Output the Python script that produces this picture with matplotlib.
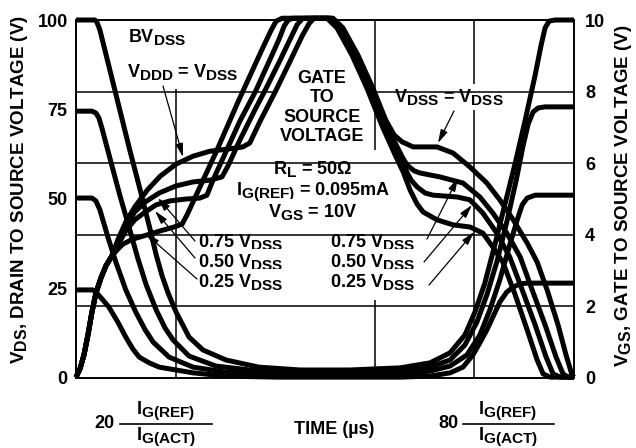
import matplotlib
matplotlib.use('Agg')
import matplotlib.pyplot as plt
from matplotlib.transforms import Affine2D
from matplotlib.patches import Rectangle
try:
    import matplotlib._mathtext as _mt
    _mt.SHRINK_FACTOR = 0.85
except Exception:
    pass

plt.rcParams['font.family'] = ['Liberation Sans', 'DejaVu Sans']
plt.rcParams['font.weight'] = 'bold'
plt.rcParams['font.size'] = 13
plt.rcParams['mathtext.fontset'] = 'custom'
plt.rcParams['mathtext.rm'] = 'Liberation Sans:bold'
plt.rcParams['mathtext.it'] = 'Liberation Sans:bold'
plt.rcParams['mathtext.bf'] = 'Liberation Sans:bold'
plt.rcParams['mathtext.sf'] = 'Liberation Sans:bold'
plt.rcParams['mathtext.default'] = 'rm'

# ---------------- data (time in % of span, voltage in V) ----------------
left_ticks = [0, 25, 50, 75, 100]
right_ticks = [0, 2, 4, 6, 8, 10]

# Drain-source voltage curves (V)
vds100_t = [0, 3.8, 4.2, 4.8, 6.8, 8.8, 10.8, 12.9, 14.9, 16.1, 17.3, 18.5, 20.1, 22.7, 25.5, 30.1, 36.7, 45.0,
            55.0, 65.1, 71.1, 75.1, 78.1, 80.1, 82.1, 84.1, 86.1, 88.2, 90.2, 92.2, 93.4, 94.2, 95.0, 96.2, 100]
vds100_v = [100, 100, 99.4, 97.2, 86.0, 74.8, 63.6, 52.4, 41.3, 34.3, 28.4, 23.6, 18.3, 11.3, 7.7, 4.9, 2.9, 2.1,
            2.1, 2.7, 4.1, 6.9, 11.9, 18.3, 26.4, 37.1, 48.3, 60.0, 72.0, 84.6, 93.0, 97.8, 99.7, 100, 100]

vds75_t = [0, 3.2, 4.0, 4.6, 5.2, 6.8, 8.8, 10.8, 12.4, 14.1, 16.1, 17.9, 19.5, 22.7, 28.1, 34.9, 45.0, 55.0,
           65.1, 71.1, 75.1, 78.1, 80.5, 82.5, 84.5, 86.5, 88.4, 89.8, 90.8, 91.8, 92.8, 94.2, 100]
vds75_v = [74.5, 74.5, 74.0, 72.6, 69.8, 61.4, 51.0, 41.3, 33.4, 25.9, 18.9, 13.8, 10.5, 6.0, 3.2, 2.1, 1.5, 1.5,
           1.8, 2.9, 4.9, 9.1, 15.5, 23.1, 32.3, 43.5, 55.2, 65.0, 70.9, 74.3, 75.4, 75.7, 75.7]

vds50_t = [0, 3.2, 4.0, 4.8, 6.4, 8.0, 10.0, 12.0, 13.9, 15.5, 18.7, 23.5, 30.1, 40.2, 55.0, 65.1, 71.1, 75.1,
           78.5, 81.1, 83.1, 85.1, 87.1, 88.6, 89.6, 90.6, 92.2, 100]
vds50_v = [50.2, 50.2, 49.4, 46.9, 39.3, 32.3, 24.5, 18.3, 13.3, 9.9, 5.7, 2.9, 1.5, 0.7, 0.7, 1.0, 1.8, 3.2,
           6.3, 11.9, 18.9, 27.3, 37.1, 44.1, 48.3, 50.2, 51.0, 51.0]

vds25_t = [0, 3.4, 4.2, 5.4, 6.6, 8.4, 10.0, 11.4, 12.7, 14.7, 16.7, 23.5, 30.1, 40.2, 55.0, 65.1, 71.1, 75.1,
           77.7, 79.7, 81.1, 82.5, 83.7, 85.1, 86.5, 87.8, 89.2, 90.6, 100]
vds25_v = [24.5, 24.5, 23.6, 21.7, 19.7, 15.5, 11.3, 8.0, 5.7, 4.1, 2.9, 1.3, 0.4, 0.1, 0.1, 0.1, 0.4, 1.3,
           2.9, 6.3, 9.7, 13.3, 16.9, 21.1, 23.9, 25.3, 26.2, 26.4, 26.4]

# Gate-source voltage curves (V, right axis 0-10)
vgs025_t = [0, 0.8, 1.6, 2.4, 3.2, 4.0, 5.0, 6.0, 7.2, 8.4, 9.4, 11.4, 14.3, 16.9, 19.7, 21.3, 22.3, 23.7, 28.3,
            32.7, 37.3, 39.2, 40.2, 41.4, 50.4, 52.4, 55.4, 58.4, 61.4, 64.1, 65.7, 67.1, 68.5, 69.7, 72.5, 75.7,
            79.1, 81.7, 83.7, 85.7, 88.2, 90.6, 92.6, 93.8, 95.2, 100]
vgs025_v = [0.01, 0.24, 0.63, 1.19, 1.83, 2.36, 2.78, 3.12, 3.40, 3.59, 3.73, 3.87, 3.99, 4.10, 4.21, 4.29, 4.55,
            4.97, 6.36, 7.76, 9.16, 9.72, 9.97, 10.05, 10.05, 9.78, 9.02, 8.10, 7.06, 6.22, 5.75, 5.24, 4.85, 4.63,
            4.41, 4.27, 4.21, 4.04, 3.65, 3.23, 2.31, 1.33, 0.49, 0.10, 0.01, 0.01]

vgs050_t = [0, 0.8, 1.6, 2.4, 3.2, 4.0, 5.0, 6.0, 7.2, 8.4, 10.0, 11.8, 13.9, 16.1, 18.9, 21.9, 24.9, 26.3, 27.5,
            29.9, 32.9, 36.0, 39.0, 40.8, 41.8, 42.6, 43.6, 50.8, 52.8, 55.8, 58.8, 61.8, 64.1, 65.7, 67.3, 68.5,
            70.1, 71.7, 76.5, 79.1, 81.7, 84.5, 87.1, 89.6, 92.2, 94.4, 95.8, 97.2, 100]
vgs050_v = [0.01, 0.24, 0.63, 1.19, 1.83, 2.36, 2.78, 3.12, 3.40, 3.71, 4.10, 4.41, 4.63, 4.83, 4.94, 4.99, 5.02,
            5.10, 5.52, 6.25, 7.17, 7.99, 8.91, 9.47, 9.83, 10.0, 10.05, 10.05, 9.78, 9.02, 8.10, 7.06, 6.41, 5.94,
            5.52, 5.33, 5.16, 5.10, 5.05, 4.97, 4.60, 4.04, 3.37, 2.45, 1.47, 0.57, 0.10, 0.01, 0.01]

vgs075_t = [0, 0.8, 1.6, 2.4, 3.2, 4.0, 5.0, 6.0, 7.2, 8.4, 10.0, 11.8, 13.9, 16.7, 20.1, 23.5, 26.9, 29.3, 30.5,
            32.9, 35.9, 38.0, 41.0, 43.2, 44.4, 45.4, 46.2, 51.2, 53.2, 56.2, 59.2, 62.2, 64.1, 65.5, 66.5, 67.9,
            69.1, 73.1, 77.7, 81.1, 83.7, 86.5, 89.2, 91.6, 94.2, 96.4, 97.8, 98.8, 100]
vgs075_v = [0.01, 0.24, 0.63, 1.19, 1.83, 2.36, 2.78, 3.12, 3.40, 3.76, 4.24, 4.63, 4.91, 5.16, 5.36, 5.47, 5.52,
            5.61, 5.91, 6.64, 7.48, 8.04, 8.88, 9.52, 9.87, 10.03, 10.05, 10.05, 9.78, 9.02, 8.10, 7.06, 6.56, 6.17,
            5.94, 5.78, 5.72, 5.61, 5.44, 5.05, 4.60, 4.04, 3.37, 2.45, 1.47, 0.57, 0.10, 0.01, 0.01]

vgs100_t = [0, 0.8, 1.6, 2.4, 3.2, 4.0, 5.0, 6.0, 7.2, 8.4, 10.0, 11.8, 14.3, 16.9, 20.1, 23.5, 26.9, 30.5, 33.5,
            34.9, 36.9, 40.0, 43.0, 45.4, 46.8, 47.8, 51.6, 53.6, 56.6, 59.6, 62.2, 63.9, 65.5, 67.7, 72.5, 75.7,
            79.1, 82.5, 85.1, 87.8, 90.6, 92.6, 94.6, 96.8, 98.4, 99.6, 100]
vgs100_v = [0.01, 0.24, 0.63, 1.19, 1.83, 2.36, 2.78, 3.12, 3.40, 3.85, 4.35, 4.77, 5.24, 5.63, 5.97, 6.19, 6.33,
            6.39, 6.45, 6.56, 7.15, 7.99, 8.85, 9.55, 9.90, 10.05, 10.05, 9.78, 9.02, 8.10, 7.20, 6.78, 6.59, 6.45,
            6.45, 6.28, 5.89, 5.44, 4.97, 4.41, 3.76, 3.23, 2.45, 1.47, 0.63, 0.07, 0.01]

vds_series = [(vds100_t, vds100_v), (vds75_t, vds75_v), (vds50_t, vds50_v), (vds25_t, vds25_v)]
vgs_series = [(vgs025_t, vgs025_v), (vgs050_t, vgs050_v), (vgs075_t, vgs075_v), (vgs100_t, vgs100_v)]

# ---------------- figure ----------------
W, H = 636, 448
fig = plt.figure(figsize=(W / 100, H / 100), dpi=100)
fig.patch.set_facecolor('white')
ax = fig.add_axes([76 / W, 1 - 377.5 / H, (574 - 76) / W, (377.5 - 20) / H])
ax.set_xlim(0, 100)
ax.set_ylim(0, 100)
ax2 = ax.twinx()
ax2.set_ylim(0, 10)

px = Affine2D().scale(1 / W, -1 / H).translate(0, 1) + fig.transFigure

for a in (ax, ax2):
    for s in a.spines.values():
        s.set_linewidth(1.2)
        s.set_color('black')
ax.set_xticks([])
ax.set_yticks(left_ticks)
ax.set_yticklabels([str(v) for v in left_ticks], fontsize=13, fontweight='bold')
ax.tick_params(axis='y', length=0, pad=6)
ax2.set_yticks(right_ticks)
ax2.set_yticklabels([str(v) for v in right_ticks], fontsize=13, fontweight='bold')
ax2.tick_params(axis='y', length=0, pad=8)

# grid lines (broken where the datasheet breaks them)
gkw = dict(color='black', lw=1.1, zorder=1, solid_capstyle='butt')
ax2.plot([0, 100], [2, 2], **gkw)
ax2.plot([0, 100], [4, 4], **gkw)
ax2.plot([0, 100], [6, 6], **gkw)
ax2.plot([0, 40], [8, 8], **gkw)
ax2.plot([60, 100], [8, 8], **gkw)
ax.plot([20, 20], [0, 80.7], **gkw)
ax.plot([60, 60], [63.5, 100], **gkw)
ax.plot([60, 60], [0, 21.8], **gkw)
ax.plot([80, 80], [0, 100], **gkw)

# white backing behind the central condition block
ax.add_patch(Rectangle((230, 153), 166, 71, transform=px, facecolor='white', edgecolor='none',
                       zorder=1.5, clip_on=False))

# curves
ckw = dict(color='black', lw=3.6, solid_joinstyle='round', solid_capstyle='butt', clip_on=False, zorder=3)
for t, v in vds_series:
    ax.plot(t, v, **ckw)
for t, v in vgs_series:
    ax2.plot(t, v, **ckw)

# texts
bb = dict(facecolor='white', edgecolor='none', pad=2.5)
def T(x, y, s, ha='left', va='baseline', box=True, **kw):
    ax.text(x, y, s, transform=px, ha=ha, va=va, fontsize=13, fontweight='bold', zorder=2,
            bbox=bb if box else None, **kw)

T(128, 42, 'BV$_{DSS}$')
T(127, 77, 'V$_{DDD}$ = V$_{DSS}$')
T(322, 83, 'GATE', ha='center')
T(322, 102, 'TO', ha='center')
T(322, 122, 'SOURCE', ha='center')
T(322, 141, 'VOLTAGE', ha='center')
T(313, 174, 'R$_{L}$ = 50Ω', ha='center')
T(313, 195, 'I$_{G(REF)}$ = 0.095mA', ha='center')
T(313, 217, 'V$_{GS}$ = 10V', ha='center')
for yb, lab in zip([247, 267, 287], ['0.75', '0.50', '0.25']):
    T(198, yb, lab + ' V$_{DSS}$')
    T(330, yb, lab + ' V$_{DSS}$')
T(394, 102, 'V$_{DSS}$ = V$_{DSS}$')

# bottom time annotations
T(104, 424, '20', ha='center', va='center', box=False)
T(166, 414, 'I$_{G(REF)}$', ha='center', box=False)
T(166, 440, 'I$_{G(ACT)}$', ha='center', box=False)
T(334, 434, 'TIME (µs)', ha='center', box=False)
T(448, 424, '80', ha='center', va='center', box=False)
T(508, 414, 'I$_{G(REF)}$', ha='center', box=False)
T(508, 440, 'I$_{G(ACT)}$', ha='center', box=False)
for x0, x1 in [(120, 212), (463, 554)]:
    ax.plot([x0, x1], [424, 424], transform=px, color='black', lw=1.2, clip_on=False)

# axis titles
fig.text(20 / W, 1 - 190 / H, 'V$_{DS}$, DRAIN TO SOURCE VOLTAGE (V)', rotation=90,
         ha='center', va='center', fontsize=13.5, fontweight='bold')
fig.text(623 / W, 1 - 196 / H, 'V$_{GS}$, GATE TO SOURCE VOLTAGE (V)', rotation=90,
         ha='center', va='center', fontsize=13.5, fontweight='bold')

# arrows
arrows = [((163, 86), (183, 157)), ((454, 111), (438, 143)),
          ((195, 241), (158, 198)), ((195, 258), (155, 211)), ((197, 279), (146, 234)),
          ((427, 239), (458, 178)), ((424, 262), (472, 205)), ((429, 285), (474, 232))]
for (x0, y0), (x1, y1) in arrows:
    ax.annotate('', xy=(x1, y1), xytext=(x0, y0), xycoords=px, textcoords=px,
                arrowprops=dict(arrowstyle='-|>,head_length=0.8,head_width=0.22', color='black',
                                lw=0.9, shrinkA=0, shrinkB=0, mutation_scale=10), zorder=4)

fig.savefig('out.png', dpi=100)
